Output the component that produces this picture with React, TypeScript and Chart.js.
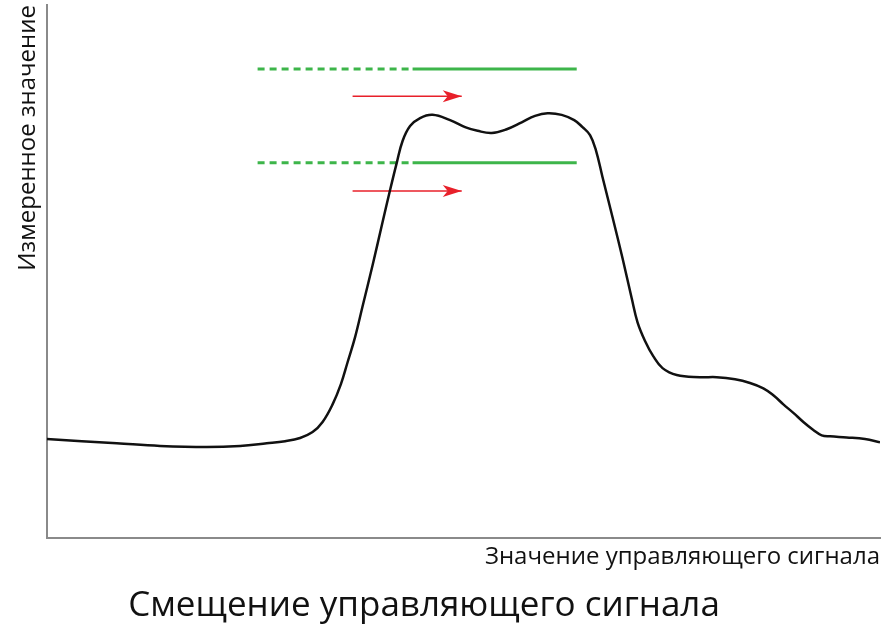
import React, { useEffect, useRef } from "react";
import { Chart, registerables } from "chart.js";

Chart.register(...registerables);

// Measured response curve (control-signal value vs measured value), 0..100 units
const curveX = [
  0, 8.4, 13.6, 19.2, 23.2, 26.4, 28.6, 30.4, 31.9, 33.1, 34.3, 35.3, 36.1, 37.0,
  37.9, 39.1, 40.3, 41.2, 42.0, 42.7, 43.6, 44.8, 46.3, 48.4, 50.2, 51.7, 53.4,
  55.2, 57.0, 58.6, 60.1, 61.8, 63.3, 64.3, 65.2, 65.9, 66.7, 67.9, 69.1, 70.2,
  70.9, 71.8, 72.8, 73.9, 75.6, 78.4, 80.4, 82.6, 84.4, 86.0, 87.2, 88.4, 89.6,
  90.8, 92.0, 93.0, 94.0, 96.0, 98.2, 100,
];
const curveY = [
  18.6, 17.8, 17.3, 17.1, 17.3, 17.8, 18.2, 18.8, 19.9, 21.8, 25.1, 28.9, 33.0, 37.7,
  43.5, 51.2, 59.3, 65.3, 70.4, 74.5, 77.3, 78.8, 79.4, 78.4, 77.1, 76.4, 76.0,
  76.7, 78.0, 79.2, 79.7, 79.4, 78.4, 77.1, 75.6, 72.8, 67.7, 60.2, 52.5, 45.0,
  40.5, 37.0, 34.1, 31.9, 30.6, 30.2, 30.2, 29.8, 29.1, 28.1, 26.8, 25.1, 23.5,
  21.8, 20.3, 19.3, 19.1, 18.9, 18.6, 18.0,
];

// Green threshold levels: dashed part then solid part
const levelY = [88.0, 70.4];
const levelDashStartX = 25.3;
const levelSolidStartX = 43.9;
const levelEndX = 63.6;

// Red shift arrows
const arrowY = [82.9, 65.1];
const arrowX = [36.7, 49.8];

const yTitle = "Измеренное значение";
const xTitle = "Значение управляющего сигнала";
const caption = "Смещение управляющего сигнала";

const FONT = '"Open Sans", "Noto Sans", sans-serif';
const GREEN = "#3db54a";
const RED = "#e8202a";

export default function App() {
  const ref = useRef<HTMLCanvasElement | null>(null);

  useEffect(() => {
    if (!ref.current) return;

    const greenSets: any[] = [];
    levelY.forEach((ly) => {
      greenSets.push({
        data: [
          { x: levelDashStartX, y: ly },
          { x: levelSolidStartX, y: ly },
        ],
        borderColor: GREEN,
        borderWidth: 3,
        borderDash: [7, 5],
        pointRadius: 0,
        tension: 0,
      });
      greenSets.push({
        data: [
          { x: levelSolidStartX, y: ly },
          { x: levelEndX, y: ly },
        ],
        borderColor: GREEN,
        borderWidth: 3,
        pointRadius: 0,
        tension: 0,
      });
    });

    const arrowSets = arrowY.map((ay) => ({
      data: arrowX.map((ax) => ({ x: ax, y: ay })),
      borderColor: RED,
      borderWidth: 1.5,
      pointRadius: 0,
      tension: 0,
    }));

    const arrowHeads = {
      id: "arrowHeads",
      afterDatasetsDraw(chart: any) {
        const { ctx, scales } = chart;
        ctx.save();
        ctx.fillStyle = RED;
        arrowY.forEach((ay) => {
          const px = scales.x.getPixelForValue(arrowX[arrowX.length - 1]);
          const py = scales.y.getPixelForValue(ay);
          ctx.beginPath();
          ctx.moveTo(px, py);
          ctx.lineTo(px - 19, py - 6);
          ctx.lineTo(px - 14, py);
          ctx.lineTo(px - 19, py + 6);
          ctx.closePath();
          ctx.fill();
        });
        ctx.restore();
      },
    };

    const captionPlugin = {
      id: "captionPlugin",
      afterDraw(chart: any) {
        const { ctx } = chart;
        ctx.save();
        ctx.font = `35px ${FONT}`;
        ctx.fillStyle = "#111";
        ctx.textAlign = "center";
        ctx.textBaseline = "middle";
        ctx.fillText(caption, 424, 606);
        ctx.restore();
      },
    };

    const chart = new Chart(ref.current, {
      type: "line",
      data: {
        datasets: [
          {
            data: curveX.map((x, i) => ({ x, y: curveY[i] })),
            borderColor: "#111",
            borderWidth: 2.5,
            pointRadius: 0,
            tension: 0.4,
          } as any,
          ...greenSets,
          ...arrowSets,
        ],
      },
      options: {
        responsive: false,
        animation: false,
        layout: { padding: { top: 5, right: 5, left: 0, bottom: 56 } },
        plugins: {
          legend: { display: false },
          tooltip: { enabled: false },
          title: { display: false },
        },
        scales: {
          x: {
            type: "linear",
            min: 0,
            max: 100,
            grid: { display: false, drawTicks: false },
            ticks: { display: false },
            border: { display: true, color: "#8a8a8a", width: 2 },
            title: {
              display: true,
              text: xTitle,
              align: "end",
              color: "#111",
              font: { family: FONT, size: 24 },
              padding: { top: 5, bottom: 0 },
            },
          },
          y: {
            type: "linear",
            min: 0,
            max: 100,
            grid: { display: false, drawTicks: false },
            ticks: { display: false },
            border: { display: true, color: "#8a8a8a", width: 2 },
            title: {
              display: true,
              text: yTitle,
              align: "end",
              color: "#111",
              font: { family: FONT, size: 24 },
              padding: { top: 14, bottom: 4 },
            },
          },
        },
      },
      plugins: [arrowHeads, captionPlugin],
    });

    return () => chart.destroy();
  }, []);

  return (
    <div style={{ position: "absolute", left: 0, top: 0, width: 885, height: 628, background: "#fff" }}>
      <canvas ref={ref} width={885} height={628} />
    </div>
  );
}
